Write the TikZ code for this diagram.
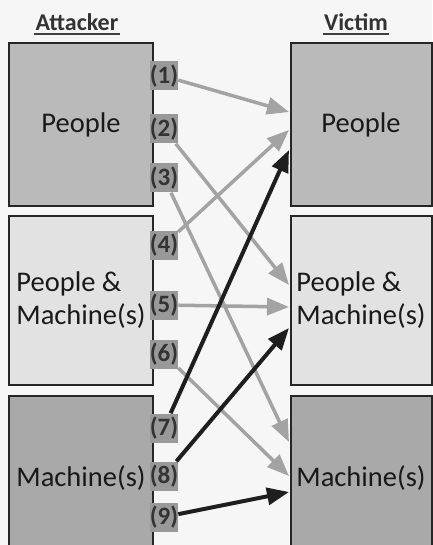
\documentclass[tikz,border=0pt]{standalone}
\usepackage{fontspec}
\setmainfont{Carlito}
\usetikzlibrary{arrows.meta}
\usepackage{xcolor}

\definecolor{paper}{HTML}{F6F6F6}
\definecolor{boxmid}{HTML}{BABABA}
\definecolor{boxlight}{HTML}{E2E2E2}
\definecolor{boxdark}{HTML}{A9A9A9}
\definecolor{tag}{HTML}{999999}
\definecolor{lite}{HTML}{A3A3A3}
\definecolor{dark}{HTML}{1E1E1E}

\begin{document}
\begin{tikzpicture}[x=1pt,y=-1pt,
    party/.style ={
        draw=black!85,
        line width=2pt,
        inner sep=0pt,
        align=left,
        text=black!90,
        font=\fontsize{28.5}{33}\selectfont
    },
    tagbox/.style ={
        fill=tag,
        text=black!80,
        inner sep=0pt,
        minimum width=27pt,
        minimum height=29pt,
        font=\bfseries\fontsize{25}{27}\selectfont
    },
    heading/.style ={
        text=black!80,
        inner sep=1pt,
        font=\bfseries\fontsize{24}{26}\selectfont
    },
    link/.style ={
        line width=3.5pt,
        -{Triangle[length=22pt,width=17pt]}
    }
    ]
    \useasboundingbox[fill=paper] (0,0) rectangle (432,545);

    % column titles
    \node[heading] (att) at (77,22) {Attacker};
    \node[heading] (vic) at (356,22) {Victim};
    \draw[line width=2pt,black!75] ([yshift=-2pt]att.south west) -- ([yshift=-2pt]att.south east);
    \draw[line width=2pt,black!75] ([yshift=-2pt]vic.south west) -- ([yshift=-2pt]vic.south east);

    % attacker side
    \node[party,fill=boxmid,minimum width=144pt,minimum height=163pt] (aP) at (81,124.5) {People};
    \node[party,fill=boxlight,minimum width=144pt,minimum height=169pt] (aPM) at (81,300.5) {People \&\\Machine(s)};
    \node[party,fill=boxdark,minimum width=144pt,minimum height=164pt] (aM) at (81,478) {Machine(s)};

    % victim side
    \node[party,fill=boxmid,minimum width=141pt,minimum height=163pt] (vP) at (361,124.5) {People};
    \node[party,fill=boxlight,minimum width=141pt,minimum height=169pt] (vPM) at (361,300.5) {People \&\\Machine(s)};
    \node[party,fill=boxdark,minimum width=141pt,minimum height=164pt] (vM) at (361,478) {Machine(s)};

    % numbered tags on the attacker edge
    \foreach \i/\y in {1/76, 2/129, 3/178, 4/245, 5/305, 6/354, 7/428, 8/476, 9/517}
        \node[tagbox] (t\i) at (164,\y) {(\i)};

    % arrow ends on the victim edge
    \foreach \i/\y in {1/112, 2/285, 3/442, 4/130, 5/307, 6/476, 7/150, 8/328, 9/492}
        \coordinate (e\i) at (289,\y);

    \foreach \i/\col/\w in {1/lite/3.5, 2/lite/3.5, 3/lite/3.5, 4/lite/3.5, 5/lite/3.5, 6/lite/3.5,
                            7/dark/4, 8/dark/4, 9/dark/4}
        \draw[link,\col,line width=\w pt] (t\i) -- (e\i);
\end{tikzpicture}
\end{document}
